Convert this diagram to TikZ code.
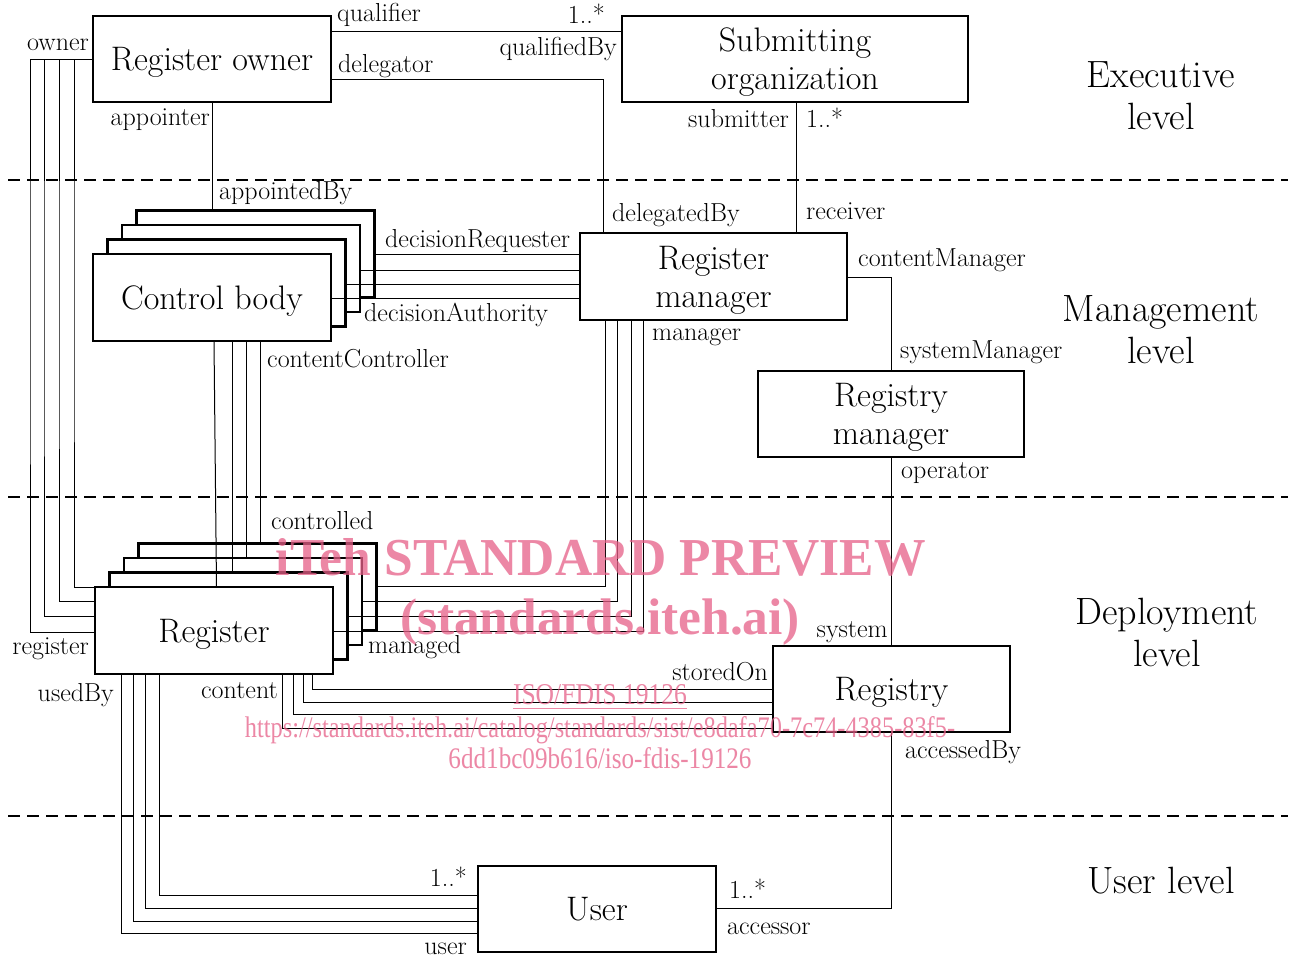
\documentclass[tikz,border=0pt]{standalone}
\usepackage{fontspec}
\newfontfamily\wmfont{Liberation Serif}
\usetikzlibrary{calc}
\newcommand\dlabfont{\fontsize{26}{30}\selectfont}
\newcommand\dboxfont{\fontsize{34}{38}\selectfont}
\newcommand\dlvlfont{\fontsize{38}{42}\selectfont}
\definecolor{wmpink}{RGB}{230,95,136}
\begin{document}
\begin{tikzpicture}[x=1pt,y=-1pt,
  box/.style={draw, line width=2.6pt, fill=white, minimum width=238pt, minimum height=86pt,
    inner sep=0pt, outer sep=0pt, font=\dboxfont, align=center, text depth=0pt},
  conn/.style={line width=1pt},
  sep/.style={line width=1.3pt, dash pattern=on 12pt off 7pt},
  lab/.style={font=\dlabfont, inner sep=0pt},
  lvl/.style={font=\dlvlfont, align=center, inner sep=0pt},
  wm/.style={inner sep=0pt, text=wmpink, opacity=0.75}]
\fill[white] (0,0) rectangle (1296,958);
\useasboundingbox (0,0) rectangle (1296,958);

% level separators
\draw[sep] (8,180) -- (1288,180);
\draw[sep] (8,497) -- (1288,497);
\draw[sep] (8,816) -- (1288,816);

% level labels
\node[lvl] (lexe) at (1161,96) {Executive\\level};
\node[lvl] (lman) at (1161,330) {Management\\level};
\node[lvl] (ldep) at (1167,632) {Deployment\\level};
\node[lvl] (lusr) at (1161,881) {User level};

% boxes
\node[box] (ro) at (212,59) {Register owner};
\node[box, minimum width=346pt] (so) at (795,59) {Submitting\\organization};
\node[box, minimum height=87pt] (cb3) at (255.5,254) {};
\node[box, minimum height=87pt] (cb2) at (241,268.5) {};
\node[box, minimum height=87pt] (cb1) at (226.5,283) {};
\node[box, minimum height=87pt] (cb) at (212,297.5) {Control body};
\node[box, minimum width=267pt, minimum height=87pt] (rm) at (713.5,276.5) {Register\\manager};
\node[box, minimum width=266pt] (ym) at (891,414) {Registry\\manager};
\node[box, minimum height=87pt] (rg3) at (257.5,587) {};
\node[box, minimum height=87pt] (rg2) at (243,601.5) {};
\node[box, minimum height=87pt] (rg1) at (228.5,616) {};
\node[box, minimum height=87pt] (rg) at (214,630.5) {Register};
\node[box, minimum width=237pt] (ry) at (891.5,689) {Registry};
\node[box] (us) at (597,909) {User};

% connectors
\draw[conn] (ro.east |- 0,32) -- (so.west |- 0,32);
\draw[conn] (ro.east |- 0,80) -| (rm.north -| 603,0);
\draw[conn] (so.south -| 796,0) -- (rm.north -| 796,0);
\draw[conn] (ro.south) -- (cb3.north -| ro.south);
% owner / register
\draw[conn] (ro.west |- 0,60) -| (30,300) |- (rg.west |- 0,632);
\draw[conn] (ro.west |- 0,60) -| (44,300) |- (rg.west |- 0,616);
\draw[conn] (ro.west |- 0,60) -| (59,300) |- (rg.west |- 0,601.5);
\draw[conn] (ro.west |- 0,60) -| (74,300) |- (rg.west |- 0,587.5);
% contentController / controlled
\draw[conn] (cb.south -| 214,0) -- (rg.north -| 216.5,0);
\draw[conn] (cb.south -| 232,0) -- (rg1.north -| 232,0);
\draw[conn] (cb.south -| 246,0) -- (rg2.north -| 246,0);
\draw[conn] (cb.south -| 260,0) -- (rg3.north -| 260,0);
% decisionRequester / decisionAuthority
\draw[conn] (cb3.east |- 0,254) -- (rm.west |- 0,254);
\draw[conn] (cb2.east |- 0,270) -- (rm.west |- 0,270);
\draw[conn] (cb1.east |- 0,284) -- (rm.west |- 0,284);
\draw[conn] (cb.east |- 0,298) -- (rm.west |- 0,298);
% manager / managed
\draw[conn] (rm.south -| 605,0) |- (rg3.east |- 0,586);
\draw[conn] (rm.south -| 617,0) |- (rg2.east |- 0,601);
\draw[conn] (rm.south -| 631,0) |- (rg1.east |- 0,616);
\draw[conn] (rm.south -| 643,0) |- (rg.east |- 0,631);
% contentManager / systemManager
\draw[conn] (rm.east |- 0,277) -| (ym.north);
% operator / system
\draw[conn] (ym.south) -- (ym.south |- ry.north);
% content / storedOn
\draw[conn] (rg.south -| 312,0) |- (ry.west |- 0,689);
\draw[conn] (rg.south -| 303,0) |- (ry.west |- 0,702);
\draw[conn] (rg.south -| 293,0) |- (ry.west |- 0,714);
\draw[conn] (rg.south -| 282,0) |- (ry.west |- 0,728);
% usedBy / user
\draw[conn] (rg.south -| 159,0) |- (us.west |- 0,895);
\draw[conn] (rg.south -| 145,0) |- (us.west |- 0,908);
\draw[conn] (rg.south -| 133,0) |- (us.west |- 0,921);
\draw[conn] (rg.south -| 121,0) |- (us.west |- 0,933);
% accessedBy / accessor
\draw[conn] (ry.south -| 891,0) |- (us.east |- 0,908);

% role labels
\node[lab, anchor=base west] (t1) at (337,22) {qualifier};
\node[lab, anchor=base east] (t2) at (605,24) {1..*};
\node[lab, anchor=base east] (t3) at (617,56) {qualifiedBy};
\node[lab, anchor=base east] (t4) at (89,51) {owner};
\node[lab, anchor=base west] (t5) at (338,73) {delegator};
\node[lab, anchor=base east] (t6) at (210,125) {appointer};
\node[lab, anchor=base east] (t7) at (789,127) {submitter};
\node[lab, anchor=base west] (t8) at (806,127) {1..*};
\node[lab, anchor=base west] (t9) at (219,199) {appointedBy};
\node[lab, anchor=base west] (t10) at (612,221) {delegatedBy};
\node[lab, anchor=base west] (t11) at (806,219) {receiver};
\node[lab, anchor=base west] (t12) at (385,247) {decisionRequester};
\node[lab, anchor=base west] (t13) at (858,266) {contentManager};
\node[lab, anchor=base west] (t14) at (364,321) {decisionAuthority};
\node[lab, anchor=base west] (t15) at (652,340) {manager};
\node[lab, anchor=base west] (t16) at (900,358) {systemManager};
\node[lab, anchor=base west] (t17) at (267,367) {contentController};
\node[lab, anchor=base west] (t18) at (901,478) {operator};
\node[lab, anchor=base west] (t19) at (271,529) {controlled};
\node[lab, anchor=base east] (t20) at (888,637) {system};
\node[lab, anchor=base east] (t21) at (89,654) {register};
\node[lab, anchor=base west] (t22) at (368,653) {managed};
\node[lab, anchor=base east] (t23) at (768,680) {storedOn};
\node[lab, anchor=base east] (t24) at (114,701) {usedBy};
\node[lab, anchor=base east] (t25) at (278,698) {content};
\node[lab, anchor=base west] (t26) at (905,758) {accessedBy};
\node[lab, anchor=base east] (t27) at (467,886) {1..*};
\node[lab, anchor=base west] (t28) at (729,898) {1..*};
\node[lab, anchor=base west] (t29) at (727,934) {accessor};
\node[lab, anchor=base east] (t30) at (467,954) {user};

% watermark
\node[wm, anchor=base] (w1) at (601,575) {\resizebox{650pt}{37pt}{\wmfont\bfseries iTeh STANDARD PREVIEW}};
\node[wm, anchor=base] (w2) at (600,634) {\resizebox{400pt}{!}{\wmfont\bfseries (standards.iteh.ai)}};
\node[wm, anchor=base] (w3) at (600,704) {\resizebox{174pt}{20pt}{\wmfont\underline{ISO/FDIS 19126}}};
\node[wm, anchor=base] (w4) at (600,737) {\resizebox{710pt}{21pt}{\wmfont https://standards.iteh.ai/catalog/standards/sist/e8dafa70-7c74-4385-83f5-}};
\node[wm, anchor=base] (w5) at (600,768) {\resizebox{303pt}{21pt}{\wmfont 6dd1bc09b616/iso-fdis-19126}};
\end{tikzpicture}
\end{document}
